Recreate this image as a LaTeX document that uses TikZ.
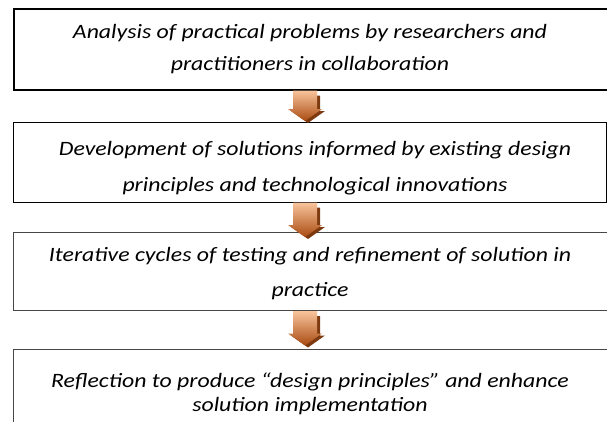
\documentclass[tikz,border=0pt]{standalone}
\usepackage{fontspec}
\setmainfont{Carlito}
\usetikzlibrary{calc}
\definecolor{arrlight}{RGB}{248,196,156}
\definecolor{arrmid}{RGB}{238,128,52}
\definecolor{arrdark}{RGB}{170,75,18}
\definecolor{arrshadow}{RGB}{125,58,16}
\definecolor{boxgrey}{RGB}{70,70,70}
\newcommand\wideline[1]{\scalebox{1.19}[1.02]{#1}}
\tikzset{
  stagebox/.style={draw, rectangle, inner sep=0pt, anchor=north west, minimum width=600pt},
  linetext/.style={anchor=base, inner sep=0pt, font=\fontsize{20}{24}\selectfont\itshape},
}
\newcommand\flowarrow[2]{%
  \fill[arrshadow] let \p1=(#1), \p2=(#2) in
    (\x1-9pt,\y1-5pt) -- (\x1+15pt,\y1-5pt) -- (\x1+15pt,\y2+10pt) -- (\x1+20pt,\y2+10pt)
    -- (\x1+3pt,\y2-2pt) -- (\x1-14pt,\y2+10pt) -- (\x1-9pt,\y2+10pt) -- cycle;
  \shade[top color=arrlight, middle color=arrmid, bottom color=arrdark] let \p1=(#1), \p2=(#2) in
    (\x1-12pt,\y1) -- (\x1+12pt,\y1) -- (\x1+12pt,\y2+12pt) -- (\x1+17pt,\y2+12pt)
    -- (\x1,\y2) -- (\x1-17pt,\y2+12pt) -- (\x1-12pt,\y2+12pt) -- cycle;
}
\begin{document}
\begin{tikzpicture}[x=1pt, y=-1pt]
\useasboundingbox (0,0) rectangle (607,421);
\node[stagebox, line width=1.6pt, minimum height=81pt] (box1) at (13,8) {};
\node[stagebox, line width=1.2pt, minimum width=592.5pt, minimum height=79.5pt] (box2) at (13,122) {};
\node[stagebox, draw=boxgrey, line width=1.2pt, minimum height=78pt] (box3) at (13,232) {};
\node[stagebox, draw=boxgrey, line width=1.2pt, minimum height=90pt] (box4) at (13,348.5) {};

\node[linetext] (t1a) at (310,38) {\wideline{Analysis of practical problems by researchers and}};
\node[linetext] (t1b) at (310,70) {\wideline{practitioners in collaboration}};
\node[linetext] (t2a) at (315,155) {\wideline{Development of solutions informed by existing design}};
\node[linetext] (t2b) at (315,191) {\wideline{principles and technological innovations}};
\node[linetext] (t3a) at (310,261) {\wideline{Iterative cycles of testing and refinement of solution in}};
\node[linetext] (t3b) at (310,296) {\wideline{practice}};
\node[linetext] (t4a) at (310,387) {\wideline{Reflection to produce “design principles” and enhance}};
\node[linetext] (t4b) at (310,411) {\wideline{solution implementation}};

\coordinate (a1s) at (305,0 |- box1.south);
\coordinate (a1e) at ($(305,0 |- box2.north)+(0,-1)$);
\coordinate (a2s) at (305,0 |- box2.south);
\coordinate (a2e) at ($(305,0 |- box3.north)+(0,5)$);
\coordinate (a3s) at (305,0 |- box3.south);
\coordinate (a3e) at ($(305,0 |- box4.north)+(0,-3)$);
\flowarrow{a1s}{a1e}
\flowarrow{a2s}{a2e}
\flowarrow{a3s}{a3e}
\end{tikzpicture}
\end{document}
